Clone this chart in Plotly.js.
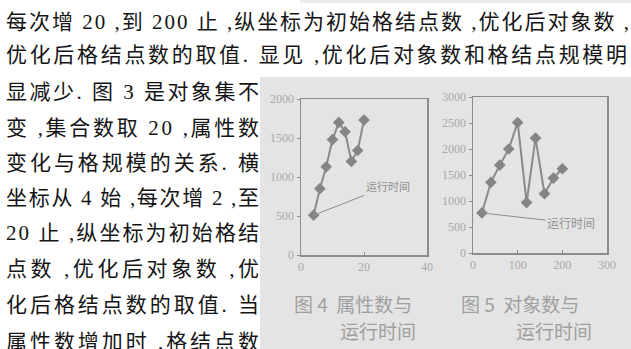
<!DOCTYPE html>
<html>
<head>
<meta charset="utf-8">
<script src="https://cdn.plot.ly/plotly-3.0.1.min.js"></script>
<style>html,body{margin:0;padding:0;background:#fff;}#chart{width:631px;height:349px;}</style>
</head>
<body>
<div id="chart"></div>
<script>
// ---- data ----
const fig4X = [4, 6, 8, 10, 12, 14, 16, 18, 20];
const fig4Y = [510, 850, 1130, 1480, 1700, 1580, 1200, 1340, 1730];
const fig5X = [20, 40, 60, 80, 100, 120, 140, 160, 180, 200];
const fig5Y = [770, 1360, 1690, 2000, 2510, 970, 2210, 1140, 1440, 1620];
const fig4XTicks = [0, 20, 40];
const fig4YTicks = [0, 500, 1000, 1500, 2000];
const fig5XTicks = [0, 100, 200, 300];
const fig5YTicks = [0, 500, 1000, 1500, 2000, 2500, 3000];
const seriesLabel = "运行时间";
const caption4 = ["图 4  属性数与", "运行时间"];
const caption5 = ["图 5  对象数与", "运行时间"];
const bodyTop = [
  "每次增 20 ,到 200 止 ,纵坐标为初始格结点数 ,优化后对象数 ,",
  "优化后格结点数的取值. 显见 ,优化后对象数和格结点规模明"
];
const bodyLeft = [
  "显减少. 图 3 是对象集不",
  "变 ,集合数取 20 ,属性数",
  "变化与格规模的关系. 横",
  "坐标从 4 始 ,每次增 2 ,至",
  "20 止 ,纵坐标为初始格结",
  "点数 ,优化后对象数 ,优",
  "化后格结点数的取值. 当",
  "属性数增加时 ,格结点数"
];

// ---- layout helpers ----
const W = 631, H = 349;
const px = v => v / W;
const py = v => 1 - v / H;
const ink = '#8c8c8c';
const tickFont = {family: 'Liberation Serif, serif', size: 12, color: '#a9a9a9'};
const bodyFont = {family: 'Liberation Serif, Noto Sans CJK SC', size: 21, color: '#141414'};
const capFont = {family: 'Noto Sans CJK SC', size: 19, color: '#a0a0a0'};

const annotations = [];
const justify = [];
const topY = [22, 55], topRight = [628, 626];
bodyTop.forEach((t, i) => {
  annotations.push({xref: 'paper', yref: 'paper', x: px(5), y: py(topY[i]), xanchor: 'left', yanchor: 'middle',
    text: t, showarrow: false, font: bodyFont, align: 'left', borderpad: 0});
  justify.push(topRight[i] - 5);
});
const leftY = [92, 128, 163, 198, 233, 269, 305, 342];
bodyLeft.forEach((t, i) => {
  annotations.push({xref: 'paper', yref: 'paper', x: px(5), y: py(leftY[i]), xanchor: 'left', yanchor: 'middle',
    text: t, showarrow: false, font: bodyFont, align: 'left', borderpad: 0});
  justify.push(253);
});
// captions
[[caption4, 293, 339], [caption5, 460, 515]].forEach(([c, x1, x2]) => {
  annotations.push({xref: 'paper', yref: 'paper', x: px(x1), y: py(303), xanchor: 'left', yanchor: 'middle',
    text: c[0], showarrow: false, font: capFont, align: 'left', borderpad: 0});
  justify.push(null);
  annotations.push({xref: 'paper', yref: 'paper', x: px(x2), y: py(330), xanchor: 'left', yanchor: 'middle',
    text: c[1], showarrow: false, font: capFont, align: 'left', borderpad: 0});
  justify.push(null);
});
// series labels with leader lines
annotations.push({xref: 'x', yref: 'y', x: fig4X[0], y: fig4Y[0], text: seriesLabel, showarrow: true,
  arrowhead: 0, arrowwidth: 1, arrowcolor: ink, ax: 74, ay: -29, standoff: 0,
  font: {family: 'Noto Sans CJK SC', size: 11, color: '#909090'}});
justify.push(null);
annotations.push({xref: 'x2', yref: 'y2', x: fig5X[0], y: fig5Y[0], text: seriesLabel, showarrow: true,
  arrowhead: 0, arrowwidth: 1, arrowcolor: ink, ax: 89, ay: 10, standoff: 0,
  font: {family: 'Noto Sans CJK SC', size: 12, color: '#909090'}});
justify.push(null);

const axisBase = {showline: true, mirror: true, linecolor: ink, linewidth: 1.5, showgrid: false, zeroline: false,
  tickfont: tickFont, tickcolor: ink, ticklen: 3, tickwidth: 1, fixedrange: true};

const traceStyle = {mode: 'lines+markers', line: {color: '#8a8a8a', width: 2},
  marker: {symbol: 'diamond', size: 9, color: '#858585'}, hoverinfo: 'skip'};

const data = [
  Object.assign({x: fig4X, y: fig4Y, xaxis: 'x', yaxis: 'y'}, traceStyle),
  Object.assign({x: fig5X, y: fig5Y, xaxis: 'x2', yaxis: 'y2'}, traceStyle)
];

const layout = {
  width: W, height: H, margin: {l: 0, r: 0, t: 0, b: 0},
  paper_bgcolor: '#ffffff', plot_bgcolor: 'rgba(0,0,0,0)', showlegend: false,
  xaxis: Object.assign({}, axisBase, {domain: [px(301), px(427)], range: [0, 40], tickvals: fig4XTicks, ticks: 'inside', anchor: 'y'}),
  yaxis: Object.assign({}, axisBase, {domain: [py(255), py(99)], range: [0, 2000], tickvals: fig4YTicks, ticks: 'outside', anchor: 'x'}),
  xaxis2: Object.assign({}, axisBase, {domain: [px(473), px(607)], range: [0, 300], tickvals: fig5XTicks, ticks: 'inside', anchor: 'y2'}),
  yaxis2: Object.assign({}, axisBase, {domain: [py(253), py(97)], range: [0, 3000], tickvals: fig5YTicks, ticks: 'outside', anchor: 'x2'}),
  shapes: [
    {type: 'rect', xref: 'paper', yref: 'paper', x0: px(260), x1: 1, y0: 0, y1: py(77), fillcolor: '#e4e4e4', line: {width: 0}, layer: 'below'},
    {type: 'rect', xref: 'paper', yref: 'paper', x0: px(300), x1: 1, y0: py(3), y1: 1, fillcolor: '#ececec', line: {width: 0}, layer: 'below'}
  ],
  annotations: annotations
};

Plotly.newPlot('chart', data, layout, {staticPlot: true, displayModeBar: false}).then(gd => {
  gd.querySelectorAll('g.annotation').forEach(g => {
    const i = +g.getAttribute('data-index');
    const w = justify[i];
    if (w) {
      const t = g.querySelector('text.annotation-text');
      if (t) { t.setAttribute('textLength', w); t.setAttribute('lengthAdjust', 'spacing'); }
    }
  });
});
</script>
</body>
</html>
